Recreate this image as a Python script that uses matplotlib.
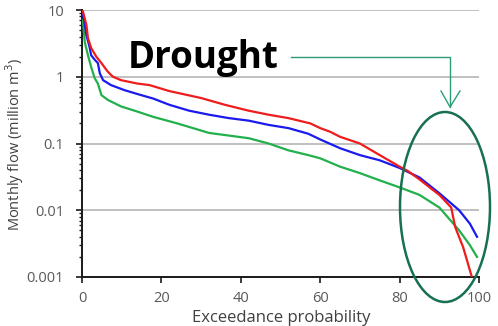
import matplotlib
matplotlib.use("Agg")
import matplotlib.pyplot as plt
from matplotlib.patches import Ellipse
from matplotlib.lines import Line2D

# Data
red_x = [0, 0.25, 1.1, 1.5, 2.3, 3.6, 4.9, 6.5, 7.8, 9.8, 14, 17, 22, 30, 36, 42, 47, 52, 57.5, 60, 62.5, 65,
         70, 75, 80, 82, 85, 88, 90, 93, 94, 96, 98.2]
red_y = [10, 9.4, 6.0, 3.8, 2.7, 2.0, 1.6, 1.19, 1.0, 0.89, 0.79, 0.75, 0.61, 0.48, 0.38, 0.31, 0.27, 0.24,
         0.20, 0.17, 0.15, 0.126, 0.10, 0.067, 0.045, 0.039, 0.029, 0.021, 0.017, 0.011, 0.0056, 0.0028, 0.001]

blue_x = [0, 0.25, 1.1, 1.9, 2.3, 3.2, 4, 4.5, 5.3, 7.3, 10.7, 14, 18, 22, 27, 32, 37, 42, 47, 52, 57, 60, 65,
          70, 75, 80, 85, 90, 95, 97.7, 99.5]
blue_y = [10, 8.9, 4.2, 2.8, 2.1, 1.8, 1.6, 1.12, 0.89, 0.75, 0.63, 0.55, 0.47, 0.38, 0.31, 0.27, 0.24, 0.22,
          0.19, 0.17, 0.14, 0.115, 0.085, 0.067, 0.056, 0.043, 0.031, 0.018, 0.010, 0.0063, 0.004]

green_x = [0, 0.25, 0.7, 1.5, 2.3, 3.2, 4, 4.9, 6.5, 9.8, 14, 18, 24, 32, 42, 47, 52, 57, 60, 65, 70, 75, 80,
           85, 90, 95, 97.7, 99.5]
green_y = [7, 6.7, 3.3, 2.1, 1.4, 0.95, 0.79, 0.53, 0.45, 0.36, 0.30, 0.25, 0.20, 0.144, 0.12, 0.10, 0.079,
           0.067, 0.06, 0.045, 0.036, 0.028, 0.022, 0.017, 0.011, 0.005, 0.003, 0.002]

x_ticks = [0, 20, 40, 60, 80, 100]
y_ticks = [0.001, 0.01, 0.1, 1, 10]
y_tick_labels = ["0.001", "0.01", "0.1", "1", "10"]

W, H = 498, 326
fig = plt.figure(figsize=(W / 100, H / 100), dpi=100)
ax = fig.add_axes([82 / W, 1 - 277 / H, 397 / W, 267 / H])

font = "Open Sans"
txt_color = "#595959"

ax.set_yscale("log")
ax.set_xlim(0, 100)
ax.set_ylim(0.001, 10)

ax.grid(axis="y", which="major", color="#b5b5b5", linewidth=1.2)
ax.set_axisbelow(True)

ax.plot(green_x, green_y, color="#22b04c", lw=1.6, zorder=3)
ax.plot(blue_x, blue_y, color="#1a1aee", lw=1.6, zorder=4)
ax.plot(red_x, red_y, color="#ee1c1c", lw=1.6, zorder=5)

for s in ["top", "right"]:
    ax.spines[s].set_visible(False)
for s in ["left", "bottom"]:
    ax.spines[s].set_color("#1a1a1a")
    ax.spines[s].set_linewidth(1.4)

ax.set_xticks(x_ticks)
ax.set_xticklabels([str(t) for t in x_ticks], fontfamily=font, fontsize=10.5, color=txt_color)
ax.set_yticks(y_ticks)
ax.set_yticklabels(y_tick_labels, fontfamily=font, fontsize=10.5, color=txt_color)
ax.tick_params(axis="x", which="major", direction="out", length=4, width=1.2, color="#1a1a1a", pad=6)
ax.tick_params(axis="y", which="major", direction="out", length=4, width=1.2, color="#1a1a1a", pad=9)
ax.tick_params(axis="y", which="minor", direction="out", length=2.5, width=1, color="#1a1a1a")
ax.yaxis.set_minor_formatter(matplotlib.ticker.NullFormatter())

fig.text(281 / W, 1 - 318 / H, "Exceedance probability", ha="center", va="center",
         fontfamily=font, fontsize=12, color="#404040")
fig.text(15 / W, 1 - 144 / H, "Monthly flow (million m$^3$)", rotation=90, ha="center", va="center",
         fontfamily=font, fontsize=10.5, color="#404040")

# Annotation
fig.text(128 / W, 1 - 68 / H, "Drought", fontfamily=font, fontweight="bold", fontsize=26.5,
         color="black", ha="left", va="baseline")

arrow_c = "#2a9d78"
fig.add_artist(Line2D([291 / W, 450 / W, 450 / W], [1 - 57 / H, 1 - 57 / H, 1 - 107 / H],
                      color=arrow_c, lw=1.0, transform=fig.transFigure))
fig.add_artist(Line2D([441 / W, 450 / W, 460 / W], [1 - 91 / H, 1 - 107 / H, 1 - 91 / H],
                      color=arrow_c, lw=1.0, transform=fig.transFigure))

ell = Ellipse((445 / W, 1 - 207 / H), 90 / W, 190 / H, transform=fig.transFigure,
              fill=False, edgecolor="#17704f", lw=1.8)
fig.add_artist(ell)

fig.savefig("out.png", dpi=100)
